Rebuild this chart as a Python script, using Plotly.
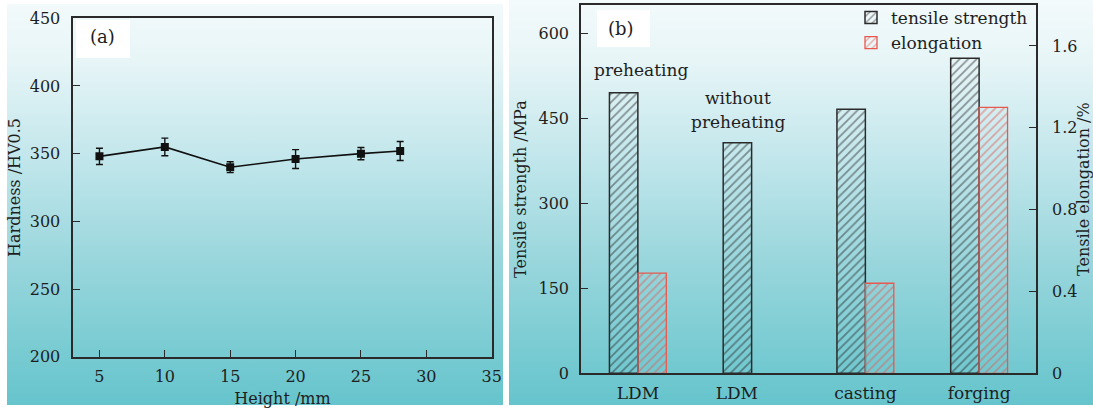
import base64
import plotly.graph_objects as go

# ---------------- data ----------------
height_mm = [5, 10, 15, 20, 25, 28]
hardness = [348, 355, 340, 346, 350, 352]
hardness_err = [6, 6.5, 4, 7, 4.5, 7]

categories = ["LDM", "LDM", "casting", "forging"]
tensile_strength = [495, 407, 466, 556]
elongation = [0.49, None, 0.44, 1.30]

hard_ticks = [200, 250, 300, 350, 400, 450]
height_ticks = [5, 10, 15, 20, 25, 30, 35]
ts_ticks = [0, 150, 300, 450, 600]
el_ticks = [0, 0.4, 0.8, 1.2, 1.6]
el_ticktext = ["0", "0.4", "0.8", "1.2", "1.6"]

# ---------------- styling ----------------
W, H = 1093, 410
FONT = "DejaVu Serif"
TXT = "#1e1e1e"
AX = "#2a2a2a"

def px(x):
    return x / W

def py(y):
    return 1 - y / H

svg = f'''<svg xmlns="http://www.w3.org/2000/svg" width="{W}" height="{H}" viewBox="0 0 {W} {H}" preserveAspectRatio="none">
<defs><linearGradient id="g" gradientUnits="userSpaceOnUse" x1="0" y1="0" x2="0" y2="405">
<stop offset="0" stop-color="#f3fafb"/>
<stop offset="0.15" stop-color="#e7f5f7"/>
<stop offset="0.40" stop-color="#c0e6eb"/>
<stop offset="0.65" stop-color="#98d6dc"/>
<stop offset="0.85" stop-color="#7bccd3"/>
<stop offset="1" stop-color="#66c4cc"/>
</linearGradient></defs>
<rect width="{W}" height="{H}" fill="#ffffff"/>
<rect x="7" y="4" width="496" height="401" fill="url(#g)"/>
<rect x="509" y="0" width="584" height="405" fill="url(#g)"/>
<rect x="76" y="20" width="54" height="38" fill="#ffffff"/>
<rect x="597" y="10" width="53" height="37" fill="#ffffff"/>
</svg>'''
bg_uri = "data:image/svg+xml;base64," + base64.b64encode(svg.encode()).decode()

fig = go.Figure()

# Panel (a)
fig.add_trace(go.Scatter(
    x=height_mm, y=hardness, mode="lines+markers",
    line=dict(color="#111111", width=1.6),
    marker=dict(symbol="square", size=8, color="#111111"),
    error_y=dict(type="data", array=hardness_err, visible=True,
                 color="#111111", thickness=1.4, width=3.5),
    xaxis="x", yaxis="y", showlegend=False,
))

# Panel (b)
xpos = list(range(len(categories)))
bar_w = 0.25
fig.add_trace(go.Bar(
    x=xpos, y=tensile_strength, name="tensile strength",
    offset=-bar_w, width=bar_w,
    marker=dict(color="rgba(0,0,0,0)",
                line=dict(color="#2b2b2b", width=1.5),
                pattern=dict(shape="/", fgcolor="#2e2e2e", bgcolor="rgba(0,0,0,0)",
                             size=6, solidity=0.28, fillmode="overlay")),
    xaxis="x2", yaxis="y2",
))
fig.add_trace(go.Bar(
    x=xpos, y=elongation, name="elongation",
    offset=0, width=bar_w,
    marker=dict(color="rgba(0,0,0,0)",
                line=dict(color="#e8584f", width=1.3),
                pattern=dict(shape="/", fgcolor="#e45a52", bgcolor="rgba(0,0,0,0)",
                             size=6, solidity=0.28, fillmode="overlay")),
    xaxis="x2", yaxis="y3",
))

label_shift = [0, -0.13, 0, 0]
tick_pos = [p + s for p, s in zip(xpos, label_shift)]

axis_common = dict(showline=True, linecolor=AX, linewidth=1.6, showgrid=False,
                   zeroline=False, ticks="inside", ticklen=7, tickwidth=1.4,
                   tickcolor=AX, automargin=False,
                   tickfont=dict(family=FONT, size=16, color=TXT))

def note(text, x, y, size=17):
    return dict(text=text, x=px(x), y=py(y), xref="paper", yref="paper",
                xanchor="center", yanchor="middle", showarrow=False,
                font=dict(family=FONT, size=size, color=TXT))

fig.update_layout(
    width=W, height=H, autosize=False,
    margin=dict(l=0, r=0, t=0, b=0, pad=0, autoexpand=False),
    paper_bgcolor="white", plot_bgcolor="rgba(0,0,0,0)",
    font=dict(family=FONT, color=TXT),
    barmode="overlay",
    images=[dict(source=bg_uri, xref="paper", yref="paper", x=0, y=1,
                 sizex=1, sizey=1, xanchor="left", yanchor="top",
                 sizing="stretch", layer="below")],
    xaxis=dict(**axis_common, domain=[px(73.3), px(491.7)], range=[3, 35],
               tickvals=height_ticks, mirror=True, anchor="y", ticklabelstandoff=4,
               title=dict(text="Height /mm", font=dict(family=FONT, size=16, color=TXT), standoff=8)),
    yaxis=dict(**axis_common, domain=[py(356.7), py(18.3)], range=[200, 450],
               tickvals=hard_ticks, mirror=True, anchor="x", ticklabelstandoff=8,
               title=dict(text="Hardness /HV0.5", font=dict(family=FONT, size=16, color=TXT), standoff=5)),
    xaxis2=dict(showline=True, linecolor=AX, linewidth=1.6, showgrid=False, zeroline=False,
                ticks="", domain=[px(581), px(1036)], range=[-0.5, 3.5], automargin=False,
                tickvals=tick_pos, ticktext=categories, mirror=True, anchor="y2",
                ticklabelstandoff=3, tickfont=dict(family=FONT, size=17, color=TXT)),
    yaxis2=dict(**axis_common, domain=[py(373.3), py(5)], range=[0, 650],
                tickvals=ts_ticks, mirror=True, anchor="x2", ticklabelstandoff=7,
                title=dict(text="Tensile strength /MPa", font=dict(family=FONT, size=16, color=TXT), standoff=8)),
    yaxis3=dict(**axis_common, overlaying="y2", anchor="x2", side="right",
                range=[0, 1.8], tickvals=el_ticks, ticktext=el_ticktext,
                ticklabelstandoff=11,
                title=dict(text="Tensile elongation /%", font=dict(family=FONT, size=16, color=TXT), standoff=16)),
    legend=dict(x=px(851), y=py(0), xanchor="left", yanchor="top",
                bgcolor="rgba(0,0,0,0)", font=dict(family=FONT, size=17, color=TXT),
                tracegroupgap=0),
    annotations=[
        note("(a)", 102, 37, 18),
        note("(b)", 621, 29, 18),
        note("preheating", 641, 70),
        note("without", 738, 98),
        note("preheating", 738, 122),
    ],
)

fig.write_html("out.html")
